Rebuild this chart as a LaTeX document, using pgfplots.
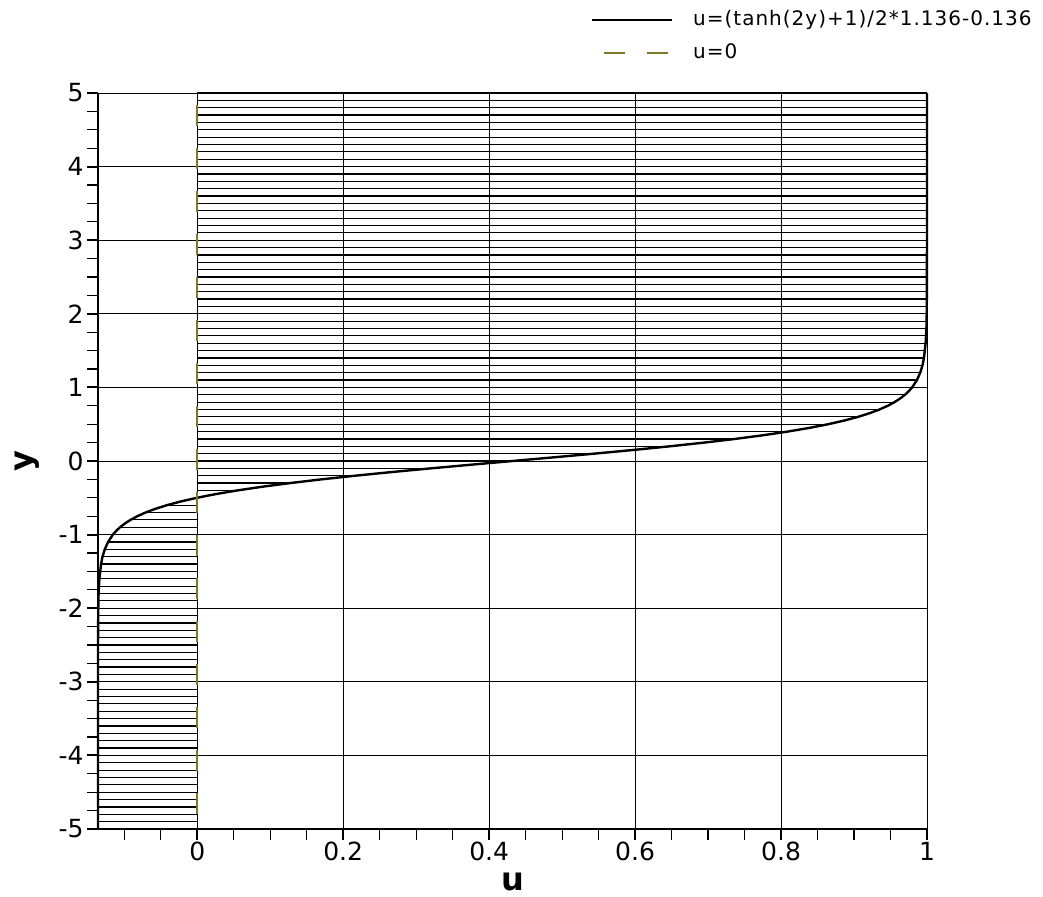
\documentclass[border=0pt]{standalone}
\usepackage{fontspec}
\setmainfont{DejaVu Sans}
\usepackage{pgfplots}
\pgfplotsset{compat=1.18}
\usepackage{pgfplotstable}

\definecolor{olivedash}{RGB}{128,120,40}

% horizontal hatch segments: from u=0 to u(y)
\pgfplotstableread{
x0 y u
0 -5.0 -0.136
0 -4.9 -0.136
0 -4.8 -0.136
0 -4.7 -0.136
0 -4.6 -0.136
0 -4.5 -0.136
0 -4.4 -0.136
0 -4.3 -0.136
0 -4.2 -0.136
0 -4.1 -0.136
0 -4.0 -0.136
0 -3.9 -0.136
0 -3.8 -0.136
0 -3.7 -0.136
0 -3.6 -0.136
0 -3.5 -0.136
0 -3.4 -0.136
0 -3.3 -0.136
0 -3.2 -0.136
0 -3.1 -0.136
0 -3.0 -0.136
0 -2.9 -0.136
0 -2.8 -0.136
0 -2.7 -0.136
0 -2.6 -0.136
0 -2.5 -0.136
0 -2.4 -0.136
0 -2.3 -0.136
0 -2.2 -0.1358
0 -2.1 -0.1357
0 -2.0 -0.1356
0 -1.9 -0.1354
0 -1.8 -0.1352
0 -1.7 -0.1347
0 -1.6 -0.1341
0 -1.5 -0.1332
0 -1.4 -0.1318
0 -1.3 -0.1298
0 -1.2 -0.1267
0 -1.1 -0.1222
0 -1.0 -0.1156
0 -0.9 -0.1058
0 -0.8 -0.0915
0 -0.7 -0.0709
0 -0.6 -0.0415
0 -0.5 -0.0006
0 -0.4 0.0548
0 -0.3 0.1270
0 -0.2 0.2162
0 -0.1 0.3199
0 0.0 0.4320
0 0.1 0.5441
0 0.2 0.6478
0 0.3 0.7370
0 0.4 0.8092
0 0.5 0.8646
0 0.6 0.9055
0 0.7 0.9349
0 0.8 0.9555
0 0.9 0.9698
0 1.0 0.9796
0 1.1 0.9862
0 1.2 0.9907
0 1.3 0.9938
0 1.4 0.9958
0 1.5 0.9972
0 1.6 0.9981
0 1.7 0.9987
0 1.8 0.9992
0 1.9 0.9994
0 2.0 0.9996
0 2.1 0.9997
0 2.2 0.9998
0 2.3 0.9999
0 2.4 0.9999
0 2.5 0.9999
0 2.6 1.0
0 2.7 1.0
0 2.8 1.0
0 2.9 1.0
0 3.0 1.0
0 3.1 1.0
0 3.2 1.0
0 3.3 1.0
0 3.4 1.0
0 3.5 1.0
0 3.6 1.0
0 3.7 1.0
0 3.8 1.0
0 3.9 1.0
0 4.0 1.0
0 4.1 1.0
0 4.2 1.0
0 4.3 1.0
0 4.4 1.0
0 4.5 1.0
0 4.6 1.0
0 4.7 1.0
0 4.8 1.0
0 4.9 1.0
0 5.0 1.0
}\hatch

% profile curve
\pgfplotstableread{
y u
-5.0 -0.1360
-2.5 -0.1360
-2.0 -0.1356
-1.8 -0.1352
-1.6 -0.1341
-1.4 -0.1318
-1.3 -0.1298
-1.2 -0.1267
-1.1 -0.1222
-1.0 -0.1156
-0.95 -0.1111
-0.9 -0.1058
-0.85 -0.0993
-0.8 -0.0915
-0.75 -0.0821
-0.7 -0.0709
-0.65 -0.0575
-0.6 -0.0415
-0.55 -0.0227
-0.5 -0.0006
-0.45 0.0251
-0.4 0.0548
-0.35 0.0887
-0.3 0.1270
-0.25 0.1695
-0.2 0.2162
-0.15 0.2665
-0.1 0.3199
-0.05 0.3754
0.0 0.4320
0.05 0.4886
0.1 0.5441
0.15 0.5975
0.2 0.6478
0.25 0.6945
0.3 0.7370
0.35 0.7753
0.4 0.8092
0.45 0.8389
0.5 0.8646
0.55 0.8867
0.6 0.9055
0.65 0.9215
0.7 0.9349
0.75 0.9461
0.8 0.9555
0.85 0.9633
0.9 0.9698
0.95 0.9751
1.0 0.9796
1.1 0.9862
1.2 0.9907
1.3 0.9938
1.4 0.9958
1.6 0.9981
1.8 0.9992
2.0 0.9996
2.5 0.9999
5.0 1.0000
}\curve

\begin{document}
\begin{tikzpicture}
\begin{axis}[
  name=ax,
  scale only axis, width=414.5pt, height=368pt,
  xmin=-0.136, xmax=1, ymin=-5, ymax=5,
  clip=false,
  axis x line*=bottom, axis y line*=left,
  axis line style={line width=1.4pt, -},
  xtick={0,0.2,0.4,0.6,0.8,1},
  ytick={-5,-4,-3,-2,-1,0,1,2,3,4,5},
  minor xtick={-0.1,-0.05,0.05,0.1,0.15,0.25,0.3,0.35,0.45,0.5,0.55,0.65,0.7,0.75,0.85,0.9,0.95},
  minor y tick num=3,
  tick align=outside,
  major tick length=5.5pt, minor tick length=5.5pt,
  major tick style={line width=1pt, black},
  minor tick style={line width=0.6pt, black},
  grid=major,
  major grid style={line width=0.5pt, black},
  /pgf/number format/assume math mode=true,
  ticklabel style={font=\fontsize{12.5}{14}\selectfont},
  yticklabel style={inner sep=1.5pt},
  xticklabel style={inner sep=1pt},
  xlabel={u}, ylabel={y},
  xlabel style={font=\fontsize{16}{18}\selectfont\bfseries, at={(axis description cs:0.5,-0.0842)}, anchor=base, inner sep=0pt},
  ylabel style={font=\fontsize{16}{18}\selectfont\bfseries, at={(axis description cs:-0.085,0.5)}, anchor=center},
  legend style={at={(axis description cs:0.594,1.113)}, anchor=north west,
    draw=none, fill=none, font=\fontsize{10}{11}\selectfont\addfontfeature{LetterSpace=5},
    inner sep=0pt, row sep=7pt, column sep=10pt,
    nodes={inner sep=0pt, text height=7.5pt, text depth=2pt}},
  legend cell align=left,
  legend image code/.code={\draw[#1] (0pt,0pt) -- (40pt,0pt);},
]
\addplot[black, line width=0.6pt, forget plot, -,
  quiver={u=\thisrow{u}, v=0}] table[x=x0, y=y] {\hatch};
\addplot[black, line width=1.2pt] table[x=u, y=y] {\curve};
\addlegendentry{u=(tanh(2y)+1)/2*1.136-0.136}
\addplot[olivedash, line width=1pt, dash pattern=on 10.5pt off 11pt, dash phase=-6pt] coordinates {(0,5) (0,-5)};
\addlegendentry{u=0}
\end{axis}
\pgfresetboundingbox
\path[use as bounding box] ([shift={(-49pt,-33.5pt)}]ax.south west) rectangle ([shift={(472.5pt,414.5pt)}]ax.south west);
\end{tikzpicture}
\end{document}
